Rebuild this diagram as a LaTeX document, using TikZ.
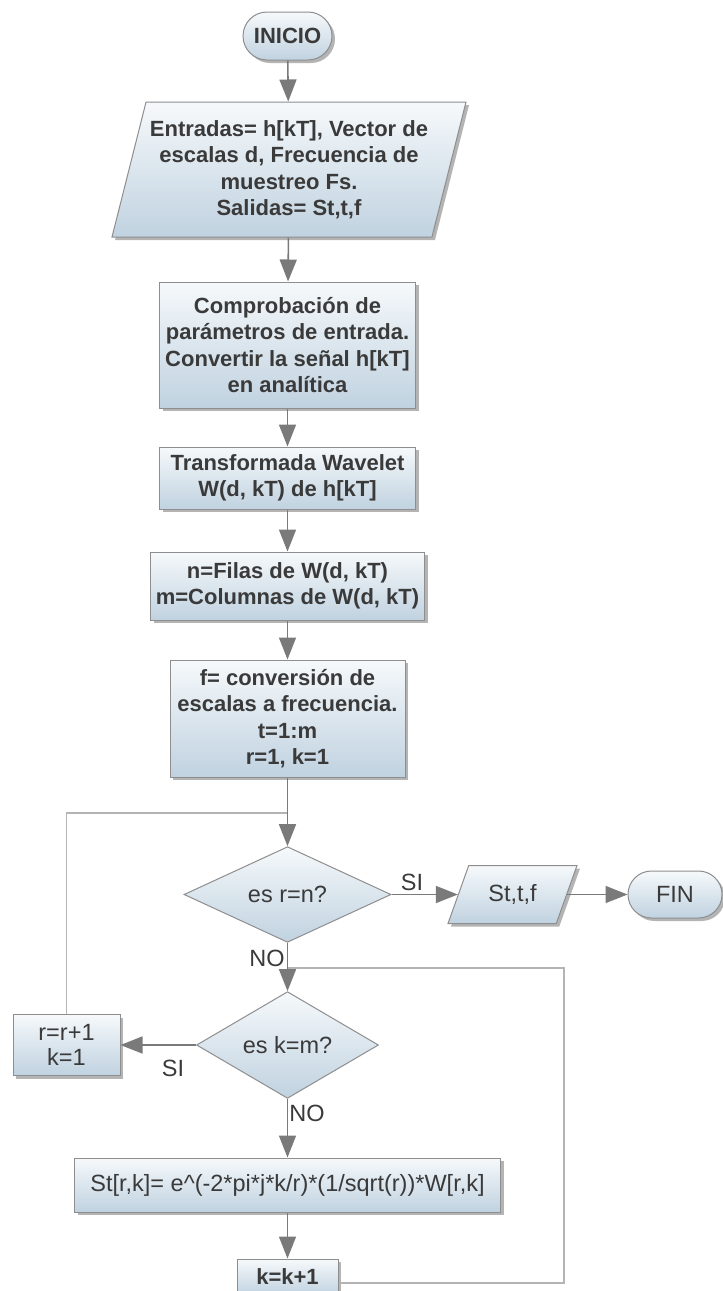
\documentclass[tikz,border=0pt]{standalone}
\usepackage{fontspec}
\setmainfont{Liberation Sans}
\usetikzlibrary{shapes.geometric,shapes.misc,shadows,arrows.meta}
\definecolor{txt}{HTML}{3A3A3A}
\definecolor{edgec}{HTML}{8E8E8E}
\definecolor{ftop}{HTML}{F6F9FB}
\definecolor{fbot}{HTML}{C0D2E0}
\definecolor{conn}{HTML}{7A7A7A}
\definecolor{loopc}{HTML}{B4B4B4}
\tikzset{
  base/.style={draw=edgec, line width=1pt, top color=ftop, bottom color=fbot,
    text=txt, align=center, inner sep=0pt,
    drop shadow={shadow xshift=3pt, shadow yshift=-3pt, fill=black!65, opacity=0.45}},
  boldtxt/.style={font=\fontsize{22}{26.5}\selectfont\bfseries},
  regtxt/.style={font=\fontsize{23.5}{25.5}\selectfont},
  procbox/.style={base, rectangle},
  termbox/.style={base, rounded rectangle},
  decbox/.style={draw=edgec, line width=1pt, top color=ftop, bottom color=fbot,
    text=txt, align=center, inner sep=0pt, diamond},
  iobox/.style={base, trapezium, trapezium stretches body=true},
  arr/.style={draw=conn, line width=1.6pt, -{Triangle[length=22pt,width=17pt]}},
  loopline/.style={draw=loopc, line width=1.5pt},
  lbl/.style={text=txt, regtxt, inner sep=0pt}
}
\begin{document}
\begin{tikzpicture}[x=1pt,y=-1pt]
\useasboundingbox[fill=white] (0,0) rectangle (723,1291);

\node[termbox, boldtxt, minimum width=89pt, minimum height=48pt] (inicio) at (287.5,36) {INICIO};
\node[iobox, boldtxt, trapezium left angle=71, trapezium right angle=109,
      minimum width=354pt, minimum height=135pt] (in1) at (289,169.5)
  {Entradas= h[kT], Vector de\\escalas d, Frecuencia de\\muestreo Fs.\\Salidas= St,t,f};
\node[procbox, boldtxt, minimum width=256pt, minimum height=126pt] (comp) at (287.5,345)
  {Comprobación de\\parámetros de entrada.\\Convertir la señal h[kT]\\en analítica};
\node[procbox, boldtxt, minimum width=256pt, minimum height=62pt] (trans) at (287.5,478)
  {Transformada Wavelet\\W(d, kT) de h[kT]};
\node[procbox, boldtxt, minimum width=274pt, minimum height=68pt] (nm) at (287.5,586)
  {n=Filas de W(d, kT)\\m=Columnas de W(d, kT)};
\node[procbox, boldtxt, minimum width=235pt, minimum height=117pt] (fconv) at (287.5,718.5)
  {f= conversión de\\escalas a frecuencia.\\t=1:m\\r=1, k=1};
\node[decbox, regtxt, minimum width=207pt, minimum height=72pt] (d1) at (287.5,894.5) {es r=n?};
\node[iobox, regtxt, trapezium left angle=44, trapezium right angle=136,
      minimum width=129pt, minimum height=58pt] (out) at (512.5,894.5) {St,t,f};
\node[termbox, regtxt, minimum width=94pt, minimum height=47pt] (fin) at (675,894.5) {FIN};
\node[decbox, regtxt, minimum width=182pt, minimum height=86pt] (d2) at (287.5,1045) {es k=m?};
\node[procbox, regtxt, minimum width=107pt, minimum height=61pt] (rr) at (66.5,1045) {r=r+1\\k=1};
\node[procbox, regtxt, minimum width=426pt, minimum height=54pt] (st) at (287.5,1185)
  {St[r,k]= e\^{}(-2*pi*j*k/r)*(1/sqrt(r))*W[r,k]};
\node[procbox, boldtxt, minimum width=101pt, minimum height=36pt] (kk) at (287.5,1277) {k=k+1};

\coordinate (j1) at (287.5,813);
\coordinate (j2) at (287.5,968);
\coordinate (c2) at (564,1283);
\coordinate (c3) at (564,968);

\draw[loopline] (rr.north) |- (j1);
\draw[loopline] (kk.east |- c2) -- (c2) -- (c3) -- (j2);

\draw[arr] (inicio) -- (in1);
\draw[arr] (in1) -- (comp);
\draw[arr] (comp) -- (trans);
\draw[arr] (trans) -- (nm);
\draw[arr] (nm) -- (fconv);
\draw[arr] (fconv) -- (d1);
\draw[arr] (d1.east) -- (out);
\draw[arr] (out) -- (fin);
\draw[arr] (d1) -- (d2);
\draw[arr] (d2.west) -- (rr.east);
\draw[arr] (d2) -- (st);
\draw[arr] (st) -- (kk);

\node[lbl] (si1) at (412,882) {SI};
\node[lbl] (no1) at (267,958) {NO};
\node[lbl] (si2) at (173,1068) {SI};
\node[lbl] (no2) at (307,1113) {NO};
\end{tikzpicture}
\end{document}
